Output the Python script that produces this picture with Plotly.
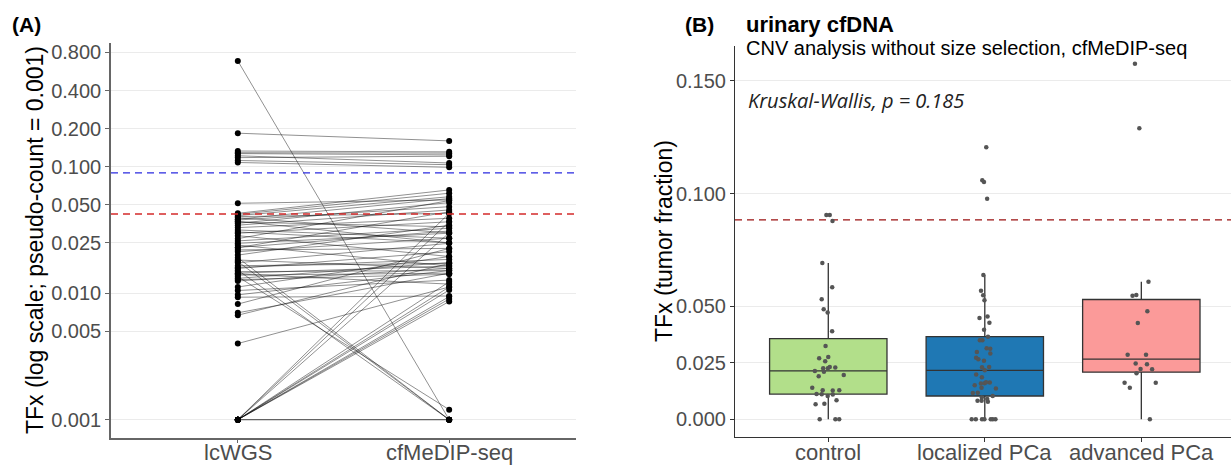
import numpy as np
import plotly.graph_objects as go

# ---------------- data: panel A (paired TFx, lcWGS vs cfMeDIP-seq) ----------------
PSEUDO = 0.001
METHODS = ["lcWGS", "cfMeDIP-seq"]
LCWGS_TFX = [
    0.685, 0.183, 0.132, 0.128, 0.126, 0.121, 0.117, 0.111, 0.107,
    0.0504, 0.0418, 0.0410, 0.0400, 0.0393, 0.0385, 0.0375, 0.0369, 0.0360, 0.0347,
    0.0335, 0.0320, 0.0306, 0.0288, 0.0275, 0.0260, 0.0249, 0.0238, 0.0230, 0.0219,
    0.0210, 0.0203, 0.0190, 0.0181, 0.0173, 0.0168, 0.0164, 0.0155, 0.0147, 0.0142,
    0.0138, 0.0134, 0.0129, 0.0125, 0.0121, 0.0115, 0.0102, 0.0095, 0.0087, 0.0083,
    0.0072, 0.0060, 0.0057, 0.0030,
    0.0, 0.0, 0.0, 0.0, 0.0, 0.0, 0.0, 0.0, 0.0, 0.0, 0.0,
    0.0355, 0.0295, 0.0220, 0.0150, 0.0132, 0.0118,
]
CFMEDIP_TFX = [
    0.0, 0.159, 0.130, 0.127, 0.123, 0.106, 0.120, 0.1027, 0.0979,
    0.0536, 0.0645, 0.0607, 0.0569, 0.0418, 0.0290, 0.0550, 0.0473, 0.0240, 0.0510,
    0.0445, 0.0381, 0.0262, 0.0357, 0.0185, 0.0530, 0.0316, 0.0288, 0.0154, 0.0430,
    0.0216, 0.0262, 0.0335, 0.0, 0.0147, 0.0, 0.0238, 0.0162, 0.0203, 0.0,
    0.0141, 0.0154, 0.0134, 0.0002, 0.0165, 0.0147, 0.0185, 0.0117, 0.0141, 0.0085,
    0.0216, 0.0134, 0.0162, 0.0102,
    0.0418, 0.0357, 0.0290, 0.0113, 0.0102, 0.0096, 0.0084, 0.0080, 0.0076, 0.0, 0.0,
    0.0325, 0.0240, 0.0300, 0.0175, 0.0108, 0.0131,
]
THRESH_BLUE = 0.0884   # TFx threshold (shown with pseudo-count on log scale)
THRESH_RED = 0.0413
LEFT_TICKS = [0.001, 0.005, 0.010, 0.025, 0.050, 0.100, 0.200, 0.400, 0.800]
LEFT_TICK_TEXT = ["0.001", "0.005", "0.010", "0.025", "0.050", "0.100", "0.200", "0.400", "0.800"]

# ---------------- data: panel B (urinary cfDNA TFx by group) ----------------
GROUPS = ["control", "localized PCa", "advanced PCa"]
CONTROL = [
    0.0905, 0.0906, 0.0879, 0.0693, 0.0585, 0.0532, 0.0488, 0.0473, 0.0390, 0.0325,
    0.0276, 0.0270, 0.0257, 0.0232, 0.0229, 0.0226, 0.0226, 0.0214, 0.0211, 0.0196,
    0.0191, 0.0140, 0.0129, 0.0129, 0.0127, 0.0110, 0.0112, 0.0111, 0.0103, 0.0084,
    0.0069, 0.0066, 0.0, 0.0, 0.0,
]
LOCALIZED = [
    0.0, 0.0, 0.0, 0.0, 0.0, 0.0, 0.0, 0.0077, 0.0082, 0.0082, 0.0090, 0.0096, 0.0103,
    0.0116, 0.0117, 0.0136, 0.0140, 0.0151, 0.0158, 0.0160, 0.0163, 0.0164, 0.0186, 0.0198,
    0.0217, 0.0230, 0.0232, 0.0259, 0.0266, 0.0273, 0.0291, 0.0298, 0.0313, 0.0315,
    0.0350, 0.0350, 0.0366, 0.0397, 0.0428, 0.0449, 0.0455, 0.0528, 0.0550, 0.0570,
    0.0639, 0.0977, 0.1052, 0.1060, 0.1206,
]
ADVANCED = [
    0.0, 0.0140, 0.0162, 0.0162, 0.0204, 0.0222, 0.0223, 0.0244, 0.0247, 0.0286, 0.0286,
    0.0427, 0.0479, 0.0548, 0.0551, 0.0610, 0.1290, 0.1576,
]
GROUP_VALUES = [CONTROL, LOCALIZED, ADVANCED]
GROUP_COLORS = ["#B2DF8A", "#1F78B4", "#FB9A99"]
THRESH_B = 0.0884
RIGHT_TICKS = [0.000, 0.025, 0.050, 0.100, 0.150]
RIGHT_TICK_TEXT = ["0.000", "0.025", "0.050", "0.100", "0.150"]
KW_P = 0.185

# ---------------- styling ----------------
W, H = 1231, 465
FONT = "Liberation Sans, Arial, sans-serif"
TICK_GREY = "#4D4D4D"


def px_x(v):
    return v / W


def px_y(v):
    return 1 - v / H


fig = go.Figure()

# ----- panel A: paired lines -----
lx, ly = [], []
for a, b in zip(LCWGS_TFX, CFMEDIP_TFX):
    lx += [METHODS[0], METHODS[1], None]
    ly += [a + PSEUDO, b + PSEUDO, None]
fig.add_trace(go.Scatter(
    x=lx, y=ly, mode="lines", line=dict(color="rgba(0,0,0,0.55)", width=0.8),
    xaxis="x", yaxis="y", showlegend=False, hoverinfo="skip"))
fig.add_trace(go.Scatter(
    x=[METHODS[0]] * len(LCWGS_TFX) + [METHODS[1]] * len(CFMEDIP_TFX),
    y=[v + PSEUDO for v in LCWGS_TFX] + [v + PSEUDO for v in CFMEDIP_TFX],
    mode="markers", marker=dict(color="black", size=6),
    xaxis="x", yaxis="y", showlegend=False))

# ----- panel B: boxes (ggplot-style stats) + jittered points -----
for g, vals, col in zip(GROUPS, GROUP_VALUES, GROUP_COLORS):
    v = np.array(vals)
    q1, med, q3 = np.percentile(v, [25, 50, 75])
    iqr = q3 - q1
    lo = v[v >= q1 - 1.5 * iqr].min()
    hi = v[v <= q3 + 1.5 * iqr].max()
    fig.add_trace(go.Box(
        x=[g], q1=[q1], median=[med], q3=[q3], lowerfence=[lo], upperfence=[hi],
        fillcolor=col, line=dict(color="#333333", width=1.3), boxpoints=False,
        width=0.75, whiskerwidth=0, xaxis="x2", yaxis="y2", showlegend=False))
    fig.add_trace(go.Box(
        x=[g] * len(vals), y=vals, boxpoints="all", jitter=0.35, pointpos=0,
        fillcolor="rgba(0,0,0,0)", line=dict(color="rgba(0,0,0,0)", width=0),
        marker=dict(color="#555555", size=4.5), width=0.75, whiskerwidth=0,
        xaxis="x2", yaxis="y2", showlegend=False))

axis_common = dict(showgrid=False, zeroline=False, ticks="outside", ticklen=4,
                   tickwidth=1, automargin=False, showticklabels=False)

# category labels (placed as annotations on the category axes)
cat_labels = []
for m in METHODS:
    cat_labels.append(dict(text=m, xref="x", yref="paper", x=m, y=px_y(452),
                           xanchor="center", yanchor="middle", showarrow=False,
                           font=dict(size=22, color=TICK_GREY, family=FONT)))
for g in GROUPS:
    cat_labels.append(dict(text=g, xref="x2", yref="paper", x=g, y=px_y(452),
                           xanchor="center", yanchor="middle", showarrow=False,
                           font=dict(size=22, color=TICK_GREY, family=FONT)))

fig.update_layout(
    width=W, height=H, margin=dict(l=0, r=0, t=0, b=0, autoexpand=False),
    paper_bgcolor="white", plot_bgcolor="white",
    font=dict(family=FONT, color=TICK_GREY),
    boxmode="overlay",
    xaxis=dict(
        **axis_common, domain=[px_x(111), px_x(576)], type="category",
        categoryorder="array", categoryarray=METHODS, range=[-0.6, 1.6],
        showline=True, linecolor="#666666", linewidth=1.5, tickcolor="#666666",
        anchor="y"),
    yaxis=dict(
        showgrid=True, gridcolor="#EBEBEB", gridwidth=1, zeroline=False,
        ticks="outside", ticklen=4, tickwidth=1, automargin=False,
        domain=[px_y(437.7), px_y(43)], type="log", range=[-3.1423, -0.0221],
        tickvals=LEFT_TICKS, ticktext=LEFT_TICK_TEXT,
        showline=True, linecolor="#666666", linewidth=1.5, tickcolor="#666666",
        tickfont=dict(size=20, color=TICK_GREY), anchor="x"),
    xaxis2=dict(
        **axis_common, domain=[px_x(735), 1.0], type="category",
        categoryorder="array", categoryarray=GROUPS, range=[-0.596, 2.573],
        showline=True, linecolor="#333333", linewidth=1, tickcolor="#333333",
        anchor="y2"),
    yaxis2=dict(
        showgrid=True, gridcolor="#EBEBEB", gridwidth=1, zeroline=False,
        ticks="outside", ticklen=4, tickwidth=1, automargin=False,
        domain=[px_y(437), px_y(46)], range=[-0.00788, 0.16548],
        tickvals=RIGHT_TICKS, ticktext=RIGHT_TICK_TEXT,
        showline=True, linecolor="#333333", linewidth=1, tickcolor="#333333",
        tickfont=dict(size=20, color=TICK_GREY), anchor="x2"),
    shapes=[
        dict(type="line", xref="x domain", x0=0, x1=1, yref="y",
             y0=THRESH_BLUE + PSEUDO, y1=THRESH_BLUE + PSEUDO,
             line=dict(color="#2B2BE0", width=1.4, dash="7px,5px"), layer="above"),
        dict(type="line", xref="x domain", x0=0, x1=1, yref="y",
             y0=THRESH_RED + PSEUDO, y1=THRESH_RED + PSEUDO,
             line=dict(color="#D42A2A", width=1.4, dash="7px,5px"), layer="above"),
        dict(type="line", xref="x2 domain", x0=0, x1=1, yref="y2",
             y0=THRESH_B, y1=THRESH_B,
             line=dict(color="#9A1010", width=1.2, dash="7px,5px"), layer="below"),
    ],
    annotations=cat_labels + [
        dict(text="<b>(A)</b>", xref="paper", yref="paper", x=px_x(10), y=px_y(25),
             xanchor="left", yanchor="middle", showarrow=False,
             font=dict(size=21, color="black", family=FONT)),
        dict(text="TFx (log scale; pseudo-count = 0.001)", xref="paper", yref="paper",
             x=px_x(35), y=px_y(240), xanchor="center", yanchor="middle", textangle=-90,
             showarrow=False, font=dict(size=23, color="black", family=FONT)),
        dict(text="<b>(B)</b>", xref="paper", yref="paper", x=px_x(683), y=px_y(25),
             xanchor="left", yanchor="middle", showarrow=False,
             font=dict(size=21, color="black", family=FONT)),
        dict(text="<b>urinary cfDNA</b>", xref="paper", yref="paper", x=px_x(744), y=px_y(24),
             xanchor="left", yanchor="middle", showarrow=False,
             font=dict(size=22, color="black", family=FONT)),
        dict(text="CNV analysis without size selection, cfMeDIP-seq", xref="paper", yref="paper",
             x=px_x(744), y=px_y(48), xanchor="left", yanchor="middle", showarrow=False,
             font=dict(size=20, color="black", family=FONT)),
        dict(text="TFx (tumor fraction)", xref="paper", yref="paper",
             x=px_x(664), y=px_y(241), xanchor="center", yanchor="middle", textangle=-90,
             showarrow=False, font=dict(size=23, color="black", family=FONT)),
        dict(text=f"<i>Kruskal-Wallis, p = {KW_P}</i>", xref="paper", yref="paper",
             x=px_x(746), y=px_y(100), xanchor="left", yanchor="middle", showarrow=False,
             font=dict(size=20, color="#222222", family="Open Sans, sans-serif")),
    ],
)

fig.write_html(
    "out.html",
    config={"displayModeBar": False},
    post_script="document.body.style.margin='0px';document.body.style.padding='0px';",
)
